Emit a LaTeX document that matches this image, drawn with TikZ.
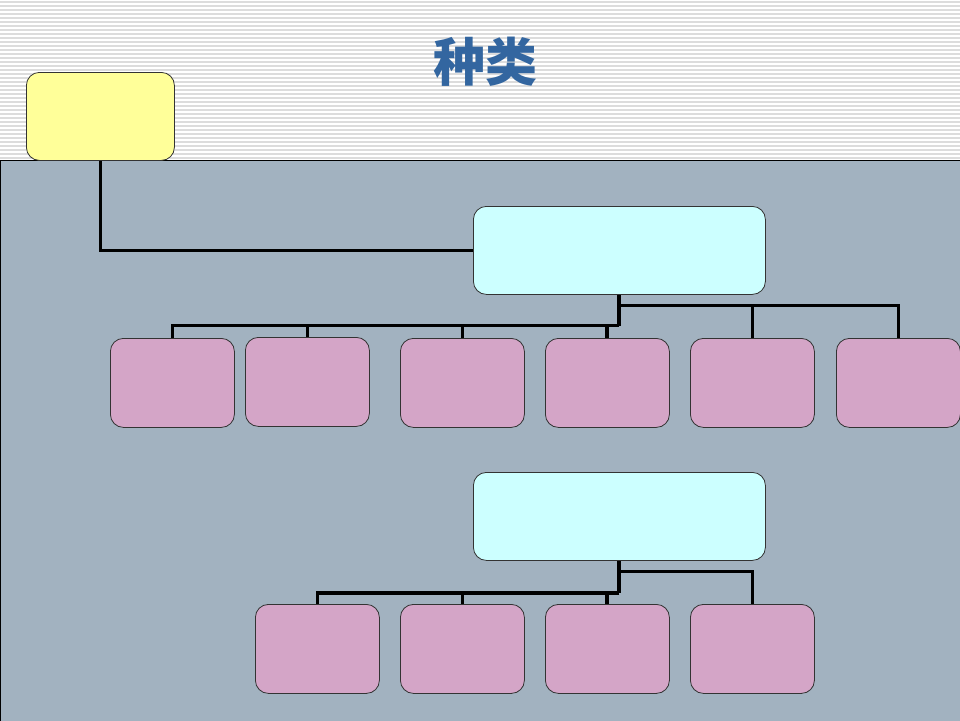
\documentclass[tikz,border=0pt]{standalone}
\usepackage{fontspec}
\newfontfamily\cjk{Noto Sans CJK SC}
\definecolor{bgray}{HTML}{A2B2C0}
\definecolor{yel}{HTML}{FFFF99}
\definecolor{cya}{HTML}{CCFFFF}
\definecolor{pnk}{HTML}{D4A5C7}
\definecolor{ttl}{HTML}{3366A0}
\definecolor{stripe}{HTML}{DCDCDC}
\tikzset{
  box/.style={draw=black!80, line width=0.8pt, rounded corners=13pt, anchor=north west, inner sep=0pt},
  ybox/.style={box, fill=yel, minimum width=148pt, minimum height=88pt},
  cbox/.style={box, fill=cya, minimum width=292pt, minimum height=88pt},
  pbox/.style={box, fill=pnk, minimum width=124pt, minimum height=89pt},
  conn/.style={line width=3.2pt, black}
}
\begin{document}
\begin{tikzpicture}[x=1pt,y=-1pt]
\useasboundingbox (0,0) rectangle (960,720);
\fill[white] (0,0) rectangle (960,720);
\foreach \i in {0,...,39} \draw[stripe, line width=1.2pt] (0,\i*4+2) -- (960,\i*4+2);
\fill[bgray] (0,160) rectangle (961,721);
\draw[line width=1pt] (0.5,721) -- (0.5,160.5) -- (961,160.5);
\node[font=\cjk\bfseries\fontsize{52}{60}\selectfont, text=ttl] (title) at (485,62) {种类};
\node[ybox] (y) at (26,72) {};
\node[cbox] (c1) at (473,206) {};
\node[cbox] (c2) at (473,472) {};
\node[pbox] (p1) at (110,338) {};
\node[pbox] (p2) at (245,337) {};
\node[pbox] (p3) at (400,338) {};
\node[pbox] (p4) at (545,338) {};
\node[pbox] (p5) at (690,338) {};
\node[pbox] (p6) at (836,338) {};
\node[pbox] (q1) at (255,604) {};
\node[pbox] (q2) at (400,604) {};
\node[pbox] (q3) at (545,604) {};
\node[pbox] (q4) at (690,604) {};
% yellow to cyan
\draw[conn] (y.south) |- (c1.west);
% cyan1 children
\coordinate (b1) at (619,325.5);
\draw[conn] (c1.south -| b1) -- (b1);
\draw[conn] (619,305.5) -| (p5.north);
\draw[conn] (619,305.5) -| (p6.north);
\draw[conn] (b1) -| (p1.north);
\draw[conn] (b1) -| (p2.north);
\draw[conn] (b1) -| (p3.north);
\draw[conn] (607,325.5) -- (607,338);
% cyan2 children
\coordinate (b2) at (619,593);
\draw[conn] (c2.south -| b2) -- (b2);
\draw[conn] (619,571.5) -| (q4.north);
\draw[conn] (b2) -| (q1.north);
\draw[conn] (b2) -| (q2.north);
\draw[conn] (607,593) -- (607,604);
\end{tikzpicture}
\end{document}
